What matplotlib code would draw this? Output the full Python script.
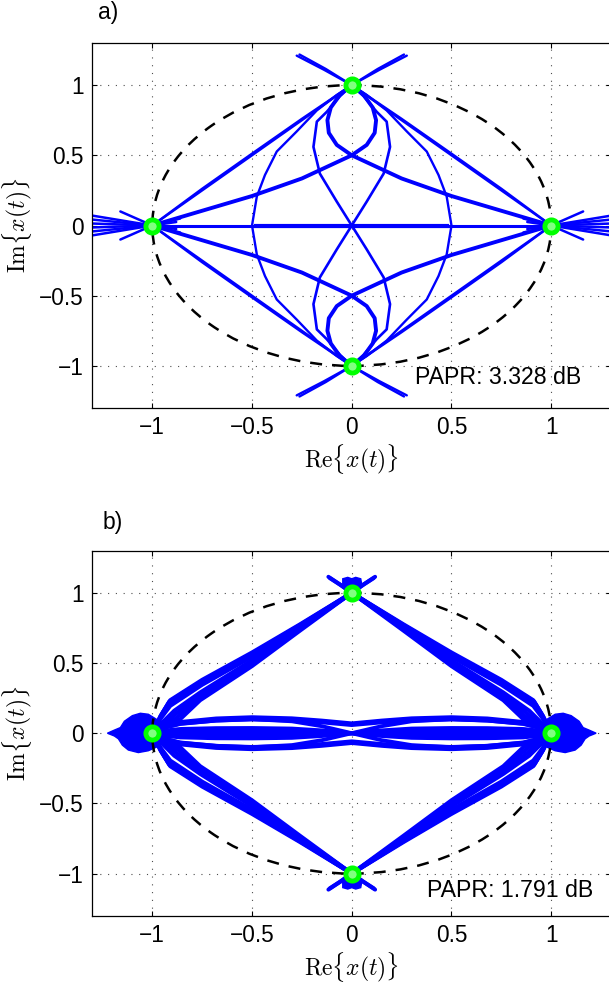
import numpy as np
import matplotlib
matplotlib.use("Agg")
import matplotlib.pyplot as plt
from matplotlib.patches import Circle, Polygon

plt.rcParams['font.family'] = ['Liberation Sans', 'DejaVu Sans']
plt.rcParams['mathtext.fontset'] = 'cm'

# --- constellation points ---
CONST_RE = [1.0, 0.0, -1.0, 0.0]
CONST_IM = [0.0, 1.0, 0.0, -1.0]
PAPR_A = "PAPR: 3.328 dB"
PAPR_B = "PAPR: 1.791 dB"
TICKS = [-1, -0.5, 0, 0.5, 1]
TICK_LABELS = ['\u22121', '\u22120.5', '0', '0.5', '1']

# --- panel a: trajectories (upper-left quadrant, mirrored) ---
A_STRAIGHT1_X = [-1.0, -0.75, -0.5, -0.25, 0.0, 0.14, 0.276]
A_STRAIGHT1_Y = [0.0, 0.25, 0.5, 0.75, 1.0, 1.11, 1.21]
A_STRAIGHT2_X = [-1.0, -0.75, -0.5, -0.25, 0.0, 0.13, 0.262]
A_STRAIGHT2_Y = [0.0, 0.262, 0.512, 0.76, 1.0, 1.115, 1.218]

A_SCURVE_X = [-1.0, -0.75, -0.5, -0.25, 0.0, 0.075, 0.115, 0.122, 0.105, 0.06, 0.0]
A_SCURVE_Y = [0.0, 0.105, 0.21, 0.335, 0.5, 0.574, 0.66, 0.75, 0.84, 0.93, 1.0]

A_OUTER_X = [0.0, -0.075, -0.175, -0.276, -0.376, -0.435, -0.476, -0.5,
             -0.476, -0.435, -0.376, -0.276, -0.175, -0.075, 0.0]
A_OUTER_Y = [1.0, 0.93, 0.82, 0.67, 0.527, 0.36, 0.206, 0.0,
             -0.206, -0.36, -0.527, -0.67, -0.82, -0.93, -1.0]

A_INNER_X = [0.0, -0.06, -0.125, -0.175, -0.192, -0.16, -0.075, 0.0,
             0.075, 0.16, 0.192, 0.175, 0.125, 0.06, 0.0]
A_INNER_Y = [1.0, 0.92, 0.81, 0.74, 0.56, 0.37, 0.17, 0.0,
             -0.17, -0.37, -0.56, -0.74, -0.81, -0.92, -1.0]

A_FAN_OUT_X = [-1.32, -1.32, -1.32, -1.32, -1.32, -1.32, -1.16, -1.16]
A_FAN_OUT_Y = [0.075, 0.045, 0.015, -0.015, -0.045, -0.075, 0.1, -0.1]
A_FAN_IN_X = [-0.86, -0.86, -0.88, -0.88]
A_FAN_IN_Y = [0.05, -0.05, 0.025, -0.025]

# --- panel b ---
B_DIAG_X = [
    [-1.0, -0.95, -0.91, -0.75, -0.5, -0.26, 0.0, 0.06, 0.117],
    [-1.0, -0.955, -0.915, -0.75, -0.5, -0.26, 0.0, 0.055, 0.11],
    [-1.0, -0.96, -0.92, -0.75, -0.5, -0.26, 0.0],
    [-1.0, -0.955, -0.91, -0.75, -0.5, -0.26, 0.0],
    [-1.0, -0.94, -0.89, -0.76, -0.5, -0.26, 0.0],
    [-1.0, -0.93, -0.88, -0.76, -0.5, -0.26, 0.0],
    [-1.0, -0.92, -0.87, -0.76, -0.5, -0.26, 0.0],
    [-1.0, -0.93, -0.86, -0.76, -0.5, -0.26, 0.0],
]
B_DIAG_Y = [
    [0.0, 0.14, 0.235, 0.38, 0.575, 0.775, 1.0, 1.06, 1.114],
    [0.0, 0.13, 0.225, 0.37, 0.565, 0.77, 1.0, 1.055, 1.105],
    [0.0, 0.12, 0.21, 0.36, 0.555, 0.765, 1.0],
    [0.0, 0.11, 0.195, 0.345, 0.545, 0.76, 1.0],
    [0.0, 0.09, 0.16, 0.29, 0.52, 0.75, 1.0],
    [0.0, 0.075, 0.14, 0.27, 0.505, 0.745, 1.0],
    [0.0, 0.06, 0.12, 0.25, 0.49, 0.74, 1.0],
    [0.0, 0.05, 0.10, 0.235, 0.478, 0.73, 1.0],
]

B_BAND_X = [-1.0, -0.93, -0.86, -0.68, -0.5, -0.3, -0.15, 0.0,
            0.15, 0.3, 0.5, 0.68, 0.86, 0.93, 1.0]
B_BAND_Y = [
    [0.0, 0.05, 0.08, 0.105, 0.114, 0.106, 0.09, 0.07, 0.09, 0.106, 0.114, 0.105, 0.08, 0.05, 0.0],
    [0.0, 0.047, 0.074, 0.098, 0.106, 0.099, 0.084, 0.064, 0.084, 0.099, 0.106, 0.098, 0.074, 0.047, 0.0],
    [0.0, 0.043, 0.068, 0.09, 0.098, 0.09, 0.077, 0.058, 0.077, 0.09, 0.098, 0.09, 0.068, 0.043, 0.0],
    [0.0, 0.042, 0.066, 0.09, 0.10, 0.085, 0.05, 0.0, -0.05, -0.085, -0.10, -0.09, -0.066, -0.042, 0.0],
    [0.0, 0.02, 0.03, 0.036, 0.037, 0.033, 0.02, 0.0, -0.02, -0.033, -0.037, -0.036, -0.03, -0.02, 0.0],
    [0.0, 0.014, 0.02, 0.024, 0.025, 0.022, 0.013, 0.0, -0.013, -0.022, -0.025, -0.024, -0.02, -0.014, 0.0],
    [0.0, 0.006, 0.009, 0.011, 0.012, 0.01, 0.006, 0.0, -0.006, -0.01, -0.012, -0.011, -0.009, -0.006, 0.0],
]

B_BLOB_X = [-1.225, -1.19, -1.16, -1.14, -1.1, -1.06, -1.02, -0.98, -0.95, -0.95,
            -0.98, -1.02, -1.07, -1.12, -1.15, -1.17, -1.19]
B_BLOB_Y = [0.0, 0.022, 0.04, 0.085, 0.125, 0.142, 0.135, 0.1, 0.05, -0.05,
            -0.1, -0.125, -0.138, -0.12, -0.085, -0.04, -0.02]
B_TOP_BLOB_X = [-0.045, -0.045, -0.02, 0.0, 0.02, 0.045, 0.05, 0.0]
B_TOP_BLOB_Y = [1.06, 1.10, 1.11, 1.10, 1.11, 1.10, 1.06, 1.0]

BLUE = '#0000ff'


def mirrored(ax, xs, ys, flip_x=True, flip_y=True, **kw):
    for sx in ([1, -1] if flip_x else [1]):
        for sy in ([1, -1] if flip_y else [1]):
            ax.plot(sx * np.array(xs), sy * np.array(ys), color=BLUE,
                    solid_capstyle='round', solid_joinstyle='round', **kw)


def style_axes(ax, papr, papr_xy):
    ax.set_xlim(-1.3, 1.3)
    ax.set_ylim(-1.3, 1.3)
    ax.set_xticks(TICKS)
    ax.set_yticks(TICKS)
    ax.set_xticklabels(TICK_LABELS)
    ax.set_yticklabels(TICK_LABELS)
    ax.tick_params(direction='in', top=True, right=True, length=3.6,
                   width=0.8, labelsize=16.3, pad=6)
    ax.grid(True, linestyle=(0, (1, 6)), color='0.3', linewidth=0.8)
    ax.set_axisbelow(True)
    for s in ax.spines.values():
        s.set_linewidth(0.9)
    ax.add_patch(Circle((0, 0), 1.0, fill=False, color='k', lw=1.8,
                        ls=(0, (4.8, 4.0)), zorder=4))
    ax.plot(CONST_RE, CONST_IM, 'o', ms=9.5, mew=3.5, mec='#00ff00',
            mfc='#80ff80', zorder=5)
    ax.text(papr_xy[0], papr_xy[1], papr, fontsize=16.7, va='center',
            ha='left', zorder=6)
    ax.set_xlabel(r'$\mathrm{Re}\{x(t)\}$', fontsize=17, labelpad=2)
    ax.set_ylabel(r'$\mathrm{Im}\{x(t)\}$', fontsize=17, labelpad=4)


fig = plt.figure(figsize=(6.09, 9.89), dpi=100)
W = 609.0
H = 989.0
ax_a = fig.add_axes([92.45 / W, 1 - 408 / H, 518.6 / W, 365 / H])
ax_b = fig.add_axes([92.45 / W, 1 - 915.7 / H, 518.6 / W, 365 / H])

# panel a
mirrored(ax_a, A_STRAIGHT1_X, A_STRAIGHT1_Y, lw=1.7)
mirrored(ax_a, A_STRAIGHT2_X, A_STRAIGHT2_Y, lw=1.7)
mirrored(ax_a, A_SCURVE_X, A_SCURVE_Y, lw=2.8)
mirrored(ax_a, A_OUTER_X, A_OUTER_Y, flip_y=False, lw=1.7)
mirrored(ax_a, A_INNER_X, A_INNER_Y, flip_y=False, lw=1.9)
ax_a.plot([-1, 1], [0, 0], color=BLUE, lw=2.2)
ax_a.plot([-0.48, 0.48], [0.0, 0.0], color=BLUE, lw=3.0)
for fx, fy in zip(A_FAN_OUT_X + A_FAN_IN_X, A_FAN_OUT_Y + A_FAN_IN_Y):
    mirrored(ax_a, [-1.0, fx], [0.0, fy], flip_y=False, lw=1.8)
style_axes(ax_a, PAPR_A, (0.317, -1.084))

# panel b
for xs, ys in zip(B_DIAG_X, B_DIAG_Y):
    mirrored(ax_b, xs, ys, lw=2.9)
for ys in B_BAND_Y:
    mirrored(ax_b, B_BAND_X, ys, flip_x=False, lw=2.8)
for sx in (1, -1):
    ax_b.add_patch(Polygon(np.column_stack([sx * np.array(B_BLOB_X), B_BLOB_Y]),
                           closed=True, fc=BLUE, ec=BLUE, lw=1.0))
    ax_b.add_patch(Polygon(np.column_stack([B_TOP_BLOB_X, sx * np.array(B_TOP_BLOB_Y)]),
                           closed=True, fc=BLUE, ec=BLUE, lw=1.0))
style_axes(ax_b, PAPR_B, (0.376, -1.12))

fig.text(98 / W, 1 - 13 / H, 'a)', fontsize=16.5, va='center', ha='left')
fig.text(103 / W, 1 - 523 / H, 'b)', fontsize=16.5, va='center', ha='left')

fig.savefig('out.png', dpi=100)
